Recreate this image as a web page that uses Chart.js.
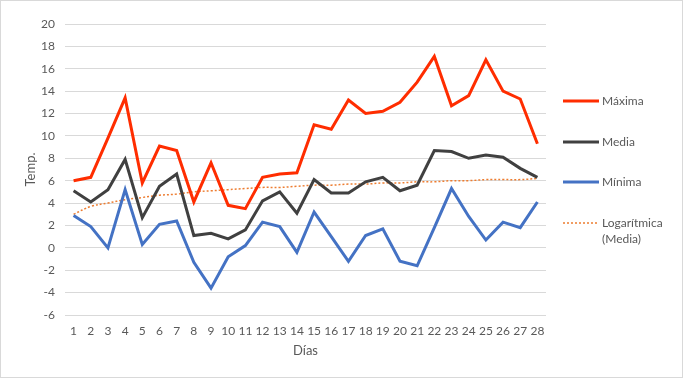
<!DOCTYPE html>
<html>
<head>
<meta charset="utf-8">
<script src="https://cdn.jsdelivr.net/npm/chart.js@4.4.0/dist/chart.umd.min.js"></script>
<style>
  html, body { margin: 0; padding: 0; background: #fff; }
  #wrap { width: 683px; height: 378px; box-sizing: border-box; border: 1px solid #d9d9d9; }
  canvas { display: block; }
</style>
</head>
<body>
<div id="wrap"><canvas id="myChart" width="681" height="376"></canvas></div>
<script>
  // DATA
  const dias = [1, 2, 3, 4, 5, 6, 7, 8, 9, 10, 11, 12, 13, 14, 15, 16, 17, 18, 19, 20, 21, 22, 23, 24, 25, 26, 27, 28];
  const maxima = [6.0, 6.3, 9.8, 13.4, 5.8, 9.1, 8.7, 4.1, 7.6, 3.8, 3.5, 6.3, 6.6, 6.7, 11.0, 10.6, 13.2, 12.0, 12.2, 13.0, 14.8, 17.1, 12.7, 13.6, 16.8, 14.0, 13.3, 9.3];
  const media = [5.1, 4.1, 5.2, 7.9, 2.7, 5.5, 6.6, 1.1, 1.3, 0.8, 1.6, 4.2, 5.0, 3.1, 6.1, 4.9, 4.9, 5.9, 6.3, 5.1, 5.6, 8.7, 8.6, 8.0, 8.3, 8.1, 7.1, 6.3];
  const minima = [2.9, 1.9, 0.0, 5.2, 0.3, 2.1, 2.4, -1.3, -3.6, -0.8, 0.2, 2.3, 1.9, -0.4, 3.2, 1.0, -1.2, 1.1, 1.7, -1.2, -1.6, 1.8, 5.3, 2.8, 0.7, 2.3, 1.8, 4.1];
  // trend line
  const tendencia = [3.0, 3.7, 4.0, 4.3, 4.5, 4.7, 4.8, 5.0, 5.1, 5.2, 5.3, 5.4, 5.4, 5.5, 5.6, 5.6, 5.7, 5.7, 5.8, 5.8, 5.9, 5.9, 6.0, 6.0, 6.1, 6.1, 6.1, 6.2];
  const yTicks = [-6, -4, -2, 0, 2, 4, 6, 8, 10, 12, 14, 16, 18, 20];

  const FONT = 'Lato';
  const GREY = '#595959';

  const data = {
    labels: dias,
    datasets: [
      { label: 'Máxima', data: maxima, borderColor: '#ff2d00', backgroundColor: '#ff2d00', borderWidth: 3, pointRadius: 0, tension: 0 },
      { label: 'Media', data: media, borderColor: '#404040', backgroundColor: '#404040', borderWidth: 3, pointRadius: 0, tension: 0 },
      { label: 'Mínima', data: minima, borderColor: '#4472c4', backgroundColor: '#4472c4', borderWidth: 3, pointRadius: 0, tension: 0 },
      { label: ['Logarítmica', '(Media)'], data: tendencia, borderColor: '#ed7d31', backgroundColor: '#ed7d31', borderWidth: 1.5, borderDash: [2, 2], pointRadius: 0, tension: 0.4 }
    ]
  };

  // legend drawn by hand so it sits like the original
  const sideLegend = {
    id: 'sideLegend',
    afterDraw(chart) {
      const ctx = chart.ctx;
      const rows = [100, 141, 181, 222];
      ctx.save();
      ctx.font = '12px ' + FONT;
      ctx.textBaseline = 'middle';
      chart.data.datasets.forEach((ds, i) => {
        const y = rows[i];
        ctx.beginPath();
        ctx.strokeStyle = ds.borderColor;
        ctx.lineWidth = ds.borderWidth;
        ctx.setLineDash(ds.borderDash || []);
        ctx.moveTo(562, y);
        ctx.lineTo(598, y);
        ctx.stroke();
        ctx.fillStyle = GREY;
        const lines = Array.isArray(ds.label) ? ds.label : [ds.label];
        lines.forEach((t, k) => ctx.fillText(t, 601, y + k * 16));
      });
      ctx.restore();
    }
  };

  const config = {
    type: 'line',
    data,
    options: {
      responsive: false,
      animation: false,
      layout: { padding: { top: 23, right: 136, bottom: 18, left: 18 } },
      plugins: { legend: { display: false }, tooltip: { enabled: false } },
      scales: {
        x: {
          offset: true,
          afterFit(scale) { scale.height = 44; },
          grid: { display: false },
          border: { display: false },
          ticks: { color: GREY, font: { family: FONT, size: 12 }, padding: 1, maxRotation: 0, autoSkip: false },
          title: { display: true, text: 'Días', color: GREY, font: { family: FONT, size: 13 }, padding: { top: 0, bottom: 0 } }
        },
        y: {
          min: -6,
          max: 20,
          afterBuildTicks(scale) { scale.ticks = yTicks.map(v => ({ value: v })); },
          afterFit(scale) { scale.width = 46; },
          grid: { color: '#d9d9d9', lineWidth: 1, drawTicks: false },
          border: { display: false },
          ticks: { color: GREY, font: { family: FONT, size: 12 }, padding: 10 },
          title: { display: true, text: 'Temp.', color: GREY, font: { family: FONT, size: 13 }, padding: { top: 4, bottom: 0 } }
        }
      }
    },
    plugins: [sideLegend]
  };

  var myChart = new Chart(document.getElementById('myChart'), config);
</script>
</body>
</html>
